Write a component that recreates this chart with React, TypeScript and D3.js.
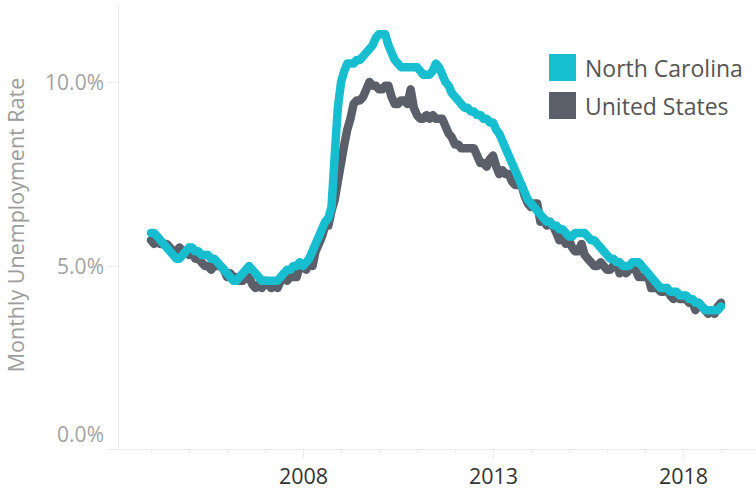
import * as d3 from "d3";
import { useEffect, useRef } from "react";

// monthly rates, Jan 2004 .. Jan 2019
const startYear = 2004;
const ncRate = [
  5.9, 5.9, 5.8, 5.7, 5.6, 5.5, 5.4, 5.3, 5.2, 5.2, 5.3, 5.4,
  5.5, 5.5, 5.4, 5.4, 5.3, 5.3, 5.3, 5.2, 5.2, 5.1, 5.0, 4.9,
  4.8, 4.7, 4.6, 4.6, 4.7, 4.8, 4.9, 5.0, 4.9, 4.8, 4.7, 4.6,
  4.6, 4.6, 4.6, 4.6, 4.6, 4.7, 4.8, 4.9, 4.9, 5.0, 5.0, 5.1,
  5.0, 5.1, 5.2, 5.4, 5.6, 5.8, 6.0, 6.2, 6.3, 6.6, 8.0, 9.3,
  10.0, 10.3, 10.5, 10.5, 10.5, 10.6, 10.6, 10.7, 10.8, 10.9, 11.0, 11.2,
  11.3, 11.3, 11.3, 11.0, 10.8, 10.6, 10.5, 10.4, 10.4, 10.4, 10.4, 10.4,
  10.4, 10.3, 10.2, 10.2, 10.2, 10.3, 10.5, 10.4, 10.2, 10.0, 9.9, 9.7,
  9.6, 9.5, 9.4, 9.3, 9.3, 9.2, 9.2, 9.1, 9.1, 9.0, 9.0, 8.9,
  8.9, 8.7, 8.6, 8.4, 8.2, 8.0, 7.8, 7.6, 7.4, 7.2, 7.0, 6.8,
  6.7, 6.6, 6.5, 6.4, 6.3, 6.2, 6.2, 6.1, 6.1, 6.0, 6.0, 5.9,
  5.8, 5.8, 5.9, 5.9, 5.9, 5.9, 5.8, 5.7, 5.7, 5.6, 5.5, 5.4,
  5.3, 5.2, 5.2, 5.1, 5.1, 5.0, 5.0, 5.0, 5.1, 5.1, 5.1, 5.0,
  4.9, 4.8, 4.7, 4.6, 4.5, 4.4, 4.4, 4.4, 4.3, 4.3, 4.3, 4.2,
  4.2, 4.2, 4.1, 4.1, 4.0, 4.0, 3.9, 3.8, 3.8, 3.8, 3.8, 3.8,
  3.9,
];
const usRate = [
  5.7, 5.6, 5.8, 5.6, 5.6, 5.6, 5.5, 5.4, 5.4, 5.5, 5.4, 5.4,
  5.3, 5.4, 5.2, 5.2, 5.1, 5.0, 5.0, 4.9, 5.0, 5.0, 5.0, 4.9,
  4.7, 4.8, 4.7, 4.7, 4.6, 4.6, 4.7, 4.7, 4.5, 4.4, 4.5, 4.4,
  4.6, 4.5, 4.4, 4.5, 4.4, 4.6, 4.7, 4.6, 4.7, 4.7, 4.7, 5.0,
  5.0, 4.9, 5.1, 5.0, 5.4, 5.6, 5.8, 6.1, 6.1, 6.5, 6.8, 7.3,
  7.8, 8.3, 8.7, 9.0, 9.4, 9.5, 9.5, 9.6, 9.8, 10.0, 9.9, 9.9,
  9.8, 9.8, 9.9, 9.9, 9.6, 9.4, 9.4, 9.5, 9.5, 9.4, 9.8, 9.3,
  9.1, 9.0, 9.0, 9.1, 9.0, 9.1, 9.0, 9.0, 9.0, 8.8, 8.6, 8.5,
  8.3, 8.3, 8.2, 8.2, 8.2, 8.2, 8.2, 8.0, 7.8, 7.8, 7.7, 7.9,
  8.0, 7.7, 7.5, 7.6, 7.5, 7.5, 7.3, 7.2, 7.2, 7.2, 6.9, 6.7,
  6.6, 6.7, 6.7, 6.2, 6.3, 6.1, 6.2, 6.1, 5.9, 5.7, 5.8, 5.6,
  5.7, 5.5, 5.4, 5.4, 5.6, 5.3, 5.2, 5.1, 5.0, 5.0, 5.1, 5.0,
  4.9, 4.9, 5.0, 5.1, 4.8, 4.9, 4.8, 4.9, 5.0, 4.9, 4.7, 4.7,
  4.7, 4.7, 4.4, 4.4, 4.4, 4.3, 4.3, 4.4, 4.2, 4.1, 4.2, 4.1,
  4.1, 4.1, 4.0, 4.0, 3.8, 4.0, 3.9, 3.8, 3.7, 3.8, 3.7, 3.9,
  4.0,
];
const seriesNames = ["North Carolina", "United States"];
const seriesColors = ["#17becf", "#5b5f69"];
const yTicks = [0, 5, 10];
const labelYears = [2008, 2013, 2018];

const W = 756;
const H = 494;
const font = "'Open Sans', sans-serif";

const App = () => {
  const ref = useRef<SVGSVGElement>(null);

  useEffect(() => {
    const svg = d3.select(ref.current);
    svg.selectAll("*").remove();

    const x = d3
      .scaleTime()
      .domain([new Date(2004, 0, 1), new Date(2019, 0, 1)])
      .range([151, 721]);
    const y = d3.scaleLinear().domain([0, 10]).range([450, 82]);

    const axisLeft = 118.5;
    const axisBottom = 449.5;

    // axes lines
    svg
      .append("line")
      .attr("x1", axisLeft)
      .attr("x2", axisLeft)
      .attr("y1", 5)
      .attr("y2", axisBottom)
      .attr("stroke", "#ebebeb");
    svg
      .append("line")
      .attr("x1", 108)
      .attr("x2", W)
      .attr("y1", axisBottom)
      .attr("y2", axisBottom)
      .attr("stroke", "#ebebeb");

    // y ticks + labels
    yTicks.forEach((t) => {
      if (t > 0) {
        svg
          .append("line")
          .attr("x1", 108)
          .attr("x2", axisLeft)
          .attr("y1", Math.round(y(t)) + 0.5)
          .attr("y2", Math.round(y(t)) + 0.5)
          .attr("stroke", "#ebebeb");
      }
      svg
        .append("text")
        .attr("x", 104)
        .attr("y", t === 0 ? y(t) - 15 : y(t) + 1)
        .attr("dy", "0.35em")
        .attr("text-anchor", "end")
        .attr("font-family", font)
        .attr("font-size", 21)
        .attr("fill", "#a3a3a3")
        .text(d3.format(".1f")(t) + "%");
    });

    // x ticks
    const years = d3.range(2004, 2020);
    years.forEach((yr) => {
      const px = Math.round(x(new Date(yr, 0, 1))) + 0.5;
      const major = labelYears.includes(yr);
      svg
        .append("line")
        .attr("x1", px)
        .attr("x2", px)
        .attr("y1", axisBottom)
        .attr("y2", axisBottom + (major ? 9 : 4))
        .attr("stroke", "#ebebeb");
      if (major) {
        svg
          .append("text")
          .attr("x", px)
          .attr("y", 484)
          .attr("text-anchor", "middle")
          .attr("font-family", font)
          .attr("font-size", 21.5)
          .attr("fill", "#333")
          .text(yr);
      }
    });

    // y title
    svg
      .append("text")
      .attr("transform", "translate(24,225) rotate(-90)")
      .attr("text-anchor", "middle")
      .attr("font-family", font)
      .attr("font-size", 21.5)
      .attr("fill", "#9c9c9c")
      .text("Monthly Unemployment Rate");

    // lines, US below NC
    const line = d3
      .line<number>()
      .x((_, i) => x(new Date(startYear, i, 1)))
      .y((d) => y(d));

    [usRate, ncRate].forEach((data, k) => {
      svg
        .append("path")
        .attr("d", line(data))
        .attr("fill", "none")
        .attr("stroke", k === 0 ? seriesColors[1] : seriesColors[0])
        .attr("stroke-width", 8.5)
        .attr("stroke-linejoin", "round")
        .attr("stroke-linecap", "round");
    });

    // legend
    const legend = svg.append("g").attr("transform", "translate(549,54)");
    seriesNames.forEach((name, i) => {
      const g = legend.append("g").attr("transform", `translate(0,${i * 38})`);
      g.append("rect")
        .attr("width", 27)
        .attr("height", 27)
        .attr("fill", seriesColors[i]);
      g.append("text")
        .attr("x", 36)
        .attr("y", 15)
        .attr("dy", "0.35em")
        .attr("font-family", font)
        .attr("font-size", 23)
        .attr("fill", "#555")
        .text(name);
    });
  }, []);

  return (
    <svg
      ref={ref}
      width={W}
      height={H}
      style={{ position: "absolute", left: 0, top: 0, background: "#fff" }}
    />
  );
};

export default App;
